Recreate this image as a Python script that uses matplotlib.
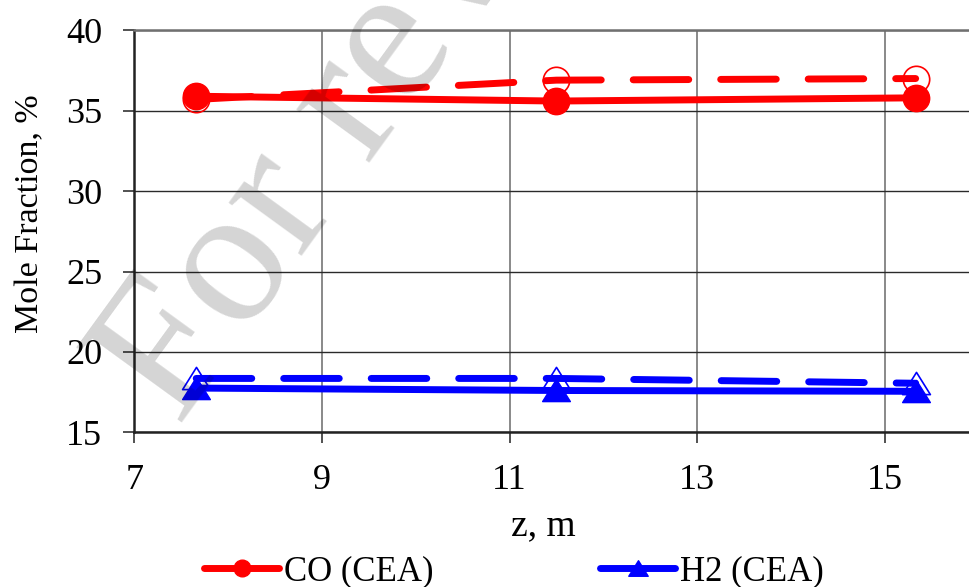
import matplotlib
matplotlib.use("Agg")
import matplotlib.pyplot as plt
from matplotlib.lines import Line2D
from matplotlib.path import Path

# axial position along the gasifier, m
z = [7.66, 11.5, 15.33]

# mole fractions, %
co_cea = [35.9, 35.6, 35.8]
h2_cea = [17.75, 17.6, 17.55]
co_meas = [35.7, 36.9, 37.0]
h2_meas = [18.35, 18.35, 18.05]

x_ticks = [7, 9, 11, 13, 15]
y_ticks = [15, 20, 25, 30, 35, 40]

plt.rcParams['font.family'] = ['Liberation Serif', 'DejaVu Serif']

W, H = 969, 587
fig = plt.figure(figsize=(W / 100, H / 100), dpi=100)
ax = fig.add_axes([134.3 / W, 1 - 432.3 / H, (W - 134.3) / W, (432.3 - 30.3) / H])

# wide, flat triangle like the spreadsheet marker
tri = Path([(0, 0.8), (-1, -0.8), (1, -0.8), (0, 0.8)], closed=True)
dash = (8, 4.6)

# dashed series with open markers
l1, = ax.plot(z, co_meas, color='red', lw=5, marker='o', ms=19, mfc='none',
              mec='red', mew=1.2, zorder=3)
l1.set_dashes(dash)
l1.set_dash_capstyle('round')
l2, = ax.plot(z, h2_meas, color='blue', lw=5, marker=tri, ms=20, mfc='none',
              mec='blue', mew=1.2, zorder=3)
l2.set_dashes(dash)
l2.set_dash_capstyle('round')

# CEA equilibrium results
ax.plot(z, co_cea, color='red', lw=5, marker='o', ms=19, solid_capstyle='round',
        zorder=4)
ax.plot(z, h2_cea, color='blue', lw=5, marker=tri, ms=20, solid_capstyle='round',
        zorder=4)

ax.set_xlim(7, 7 + (W - 134.3) / 93.8)
ax.set_ylim(15, 40)
ax.set_xticks(x_ticks)
ax.set_yticks(y_ticks)
ax.tick_params(direction='out', length=8, width=1.2, labelsize=26, pad=15,
               color='#333333')
ax.grid(True, axis='x', color='#6a6a6a', lw=1.1)
ax.grid(True, axis='y', color='#2a2a2a', lw=1.0)
ax.set_axisbelow(True)
for side in ['left', 'bottom']:
    ax.spines[side].set_linewidth(1.8)
    ax.spines[side].set_color('#222222')
ax.spines['top'].set_color('#707070')
ax.spines['top'].set_linewidth(1.8)
ax.spines['right'].set_visible(False)

fig.text(30 / W, 1 - 214 / H, 'Mole Fraction, %', rotation=90, fontsize=24.5,
         ha='center', va='center')
fig.text(543 / W, 1 - 526 / H, 'z, m', fontsize=27, ha='center', va='center')

handles = [
    Line2D([], [], color='red', lw=5, marker='o', ms=12, solid_capstyle='round'),
    Line2D([], [], color='blue', lw=5, marker=tri, ms=14, solid_capstyle='round'),
]
fig.legend(handles, ['CO (CEA)', 'H2 (CEA)'], loc='center',
           bbox_to_anchor=(514 / W, 1 - 572 / H), ncol=2, frameon=False,
           fontsize=25, handlelength=2.15, handletextpad=0.15, columnspacing=4.8,
           borderpad=0, borderaxespad=0)

# watermark
fig.text(178 / W, 1 - 427 / H, 'For review only', fontsize=142, rotation=54,
         rotation_mode='anchor', ha='left', va='baseline', color='black',
         alpha=0.17, zorder=10)

fig.savefig('out.png', dpi=100)
